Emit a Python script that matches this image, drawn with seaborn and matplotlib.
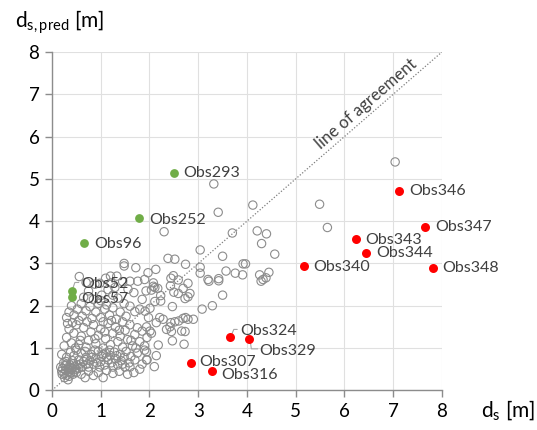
import matplotlib
matplotlib.use("Agg")
import matplotlib.pyplot as plt
import seaborn as sns
import pandas as pd

# ---------------- data ----------------
gray_pts = [
    # dense cluster near origin
    (0.20,0.45),(0.22,0.52),(0.25,0.40),(0.27,0.58),(0.28,0.47),(0.30,0.62),(0.31,0.36),(0.33,0.50),
    (0.34,0.44),(0.36,0.55),(0.37,0.60),(0.38,0.41),(0.40,0.48),(0.41,0.53),(0.43,0.38),(0.44,0.63),
    (0.46,0.45),(0.47,0.57),(0.49,0.50),(0.50,0.42),(0.52,0.60),(0.24,0.65),(0.18,0.55),(0.35,0.33),
    (0.29,0.68),(0.42,0.70),(0.55,0.52),(0.26,0.30),(0.33,0.25),(0.21,0.38),
    # low row
    (0.60,0.38),(0.68,0.30),(0.75,0.45),(0.85,0.35),(0.95,0.42),(1.05,0.30),(1.12,0.47),(1.25,0.40),
    (1.38,0.45),(1.55,0.38),(0.62,0.55),(0.72,0.62),(1.50,0.55),(1.68,0.42),
    # 0.55 - 0.95
    (0.20,0.85),(0.30,0.78),(0.45,0.82),(0.55,0.72),(0.60,0.88),(0.65,0.68),(0.70,0.78),(0.78,0.70),
    (0.80,0.85),(0.85,0.62),(0.90,0.75),(0.95,0.92),(1.00,0.68),(1.02,0.80),(1.08,0.60),(1.10,0.88),
    (1.15,0.72),(1.20,0.82),(1.22,0.65),(1.28,0.90),(1.30,0.75),(1.35,0.60),(1.40,0.85),(1.42,0.70),
    (1.48,0.78),(1.52,0.92),(1.58,0.65),(1.62,0.80),(1.70,0.72),(1.75,0.88),(1.85,0.62),(1.90,0.95),
    (0.50,0.95),(0.38,0.90),(0.88,0.95),(1.18,0.95),(0.75,0.55),(0.98,0.55),(1.60,0.55),(1.80,0.50),
    (1.95,0.72),(0.58,0.62),(0.82,0.78),(1.05,0.85),(1.33,0.82),(0.68,0.92),(0.92,0.65),(1.25,0.55),
    (1.45,0.62),(1.12,0.78),
    # 0.95 - 1.6
    (0.25,1.05),(0.30,1.25),(0.35,1.45),(0.40,1.12),(0.45,1.35),(0.50,1.55),(0.55,1.08),(0.60,1.28),
    (0.65,1.48),(0.70,1.02),(0.75,1.18),(0.80,1.38),(0.85,1.55),(0.90,1.10),(0.95,1.30),(1.00,1.45),
    (1.05,1.00),(1.10,1.22),(1.15,1.58),(1.20,1.08),(1.25,1.35),(1.30,1.50),(1.35,1.15),(1.40,1.28),
    (1.45,1.02),(1.50,1.42),(1.55,1.20),(1.60,1.55),(1.65,1.05),(1.70,1.32),(1.75,1.48),(1.80,1.15),
    (1.85,1.40),(1.90,1.05),(1.95,1.25),(0.42,1.60),(0.72,1.62),(1.22,1.65),(0.58,1.18),(0.88,1.22),
    (1.08,1.38),(1.38,1.42),(1.62,1.18),(0.32,1.58),(1.72,1.00),(0.48,1.00),
    # 1.6 - 2.1
    (0.30,1.72),(0.35,1.85),(0.40,2.00),(0.45,1.78),(0.52,1.92),(0.60,2.05),(0.62,1.75),(0.70,1.88),
    (0.78,1.98),(0.82,1.70),(0.90,1.85),(0.95,2.05),(1.00,1.72),(1.08,1.92),(1.12,2.02),(1.18,1.78),
    (1.25,1.95),(1.32,1.68),(1.40,1.85),(1.48,2.05),(1.52,1.75),(1.60,1.99),(1.70,1.86),(1.80,1.92),
    (1.91,1.87),(1.98,1.72),(0.55,1.65),(1.05,1.62),(1.45,1.62),
    # 2.1 - 3.0 (x < 2)
    (0.56,2.69),(0.65,2.20),(0.75,2.35),(0.85,2.15),(0.88,2.51),(0.98,2.53),(1.02,2.25),(1.10,2.65),
    (1.15,2.38),(1.20,2.70),(1.21,2.54),(1.29,2.43),(1.33,2.70),(1.35,2.18),(1.45,2.57),(1.48,3.00),
    (1.48,2.94),(1.56,2.39),(1.60,2.58),(1.68,2.31),(1.72,2.90),(1.76,2.58),(1.85,2.15),(1.93,2.35),
    (1.97,2.78),(1.00,2.12),(0.70,2.55),(1.25,2.25),(1.90,2.62),
    # x 2 - 3
    (2.04,2.37),(2.08,2.54),(2.08,2.46),(2.13,2.86),(2.11,2.43),(2.17,2.41),(2.23,2.24),(2.30,3.75),
    (2.38,3.12),(2.52,3.10),(2.43,2.47),(2.50,2.32),(2.49,2.71),(2.44,2.65),(2.59,2.61),(2.69,2.41),
    (2.74,2.98),(2.79,2.53),(2.83,2.29),(2.73,2.17),(2.59,2.29),(2.79,2.21),(2.11,2.10),(2.23,2.11),
    (2.47,1.98),(2.01,1.94),(2.21,1.72),(2.28,1.68),(2.44,1.60),(2.14,1.60),(2.60,1.64),(2.74,1.72),
    (2.79,1.68),(2.90,1.68),(1.94,1.50),(2.35,1.44),(2.45,1.39),(2.66,1.40),(2.73,1.39),(2.01,1.40),
    (2.04,1.35),(2.47,1.17),(2.18,1.07),(2.71,1.09),(1.94,0.91),(2.14,0.82),(2.10,0.56),(1.94,0.72),
    (2.42,1.50),(2.52,1.62),(2.69,1.70),
    # x 3 - 4
    (3.04,3.32),(3.50,3.17),(3.04,2.91),(3.92,2.99),(3.57,2.82),(3.04,2.77),(3.76,2.77),(3.91,2.73),
    (3.20,2.62),(3.42,2.64),(3.22,2.58),(3.42,2.59),(3.50,2.25),(3.29,2.00),(3.08,1.92),(3.41,4.21),
    (3.70,3.72),(3.32,4.88),(3.97,2.99),
    # x > 4
    (4.12,4.38),(4.21,3.77),(4.40,3.70),(4.30,3.47),(4.57,3.22),(4.26,2.73),(4.45,2.79),(4.39,2.66),
    (4.33,2.62),(4.29,2.58),(5.49,4.40),(5.65,3.85),(7.04,5.40),
]
gray_x = [p[0] for p in gray_pts]
gray_y = [p[1] for p in gray_pts]

green_names = ["Obs293", "Obs252", "Obs96", "Obs52", "Obs57"]
green_x = [2.50, 1.78, 0.66, 0.42, 0.42]
green_y = [5.14, 4.07, 3.49, 2.35, 2.21]
green_lx = [2.69, 1.99, 0.87, 0.61, 0.61]
green_ly = [5.13, 4.03, 3.46, 2.51, 2.17]

red_names = ["Obs346", "Obs347", "Obs343", "Obs344", "Obs340", "Obs348",
             "Obs324", "Obs329", "Obs307", "Obs316"]
red_x = [7.12, 7.66, 6.23, 6.45, 5.16, 7.82, 3.66, 4.05, 2.86, 3.28]
red_y = [4.71, 3.85, 3.57, 3.25, 2.95, 2.90, 1.26, 1.21, 0.64, 0.46]
red_lx = [7.32, 7.86, 6.43, 6.65, 5.35, 8.01, 3.86, 4.26, 3.02, 3.48]
red_ly = [4.71, 3.85, 3.55, 3.24, 2.92, 2.90, 1.40, 0.93, 0.68, 0.36]

ticks = [0, 1, 2, 3, 4, 5, 6, 7, 8]

# ---------------- style ----------------
sns.set_theme(style="white")
plt.rcParams['font.family'] = ['Lato', 'DejaVu Sans']
plt.rcParams['mathtext.fontset'] = 'custom'
plt.rcParams['mathtext.rm'] = 'Lato'
plt.rcParams['mathtext.it'] = 'Lato:italic'

TXT = '#404040'
AX = '#8c8c8c'

fig = plt.figure(figsize=(5.37, 4.30), dpi=100)
ax = fig.add_axes([0.0968, 0.0923, 0.7262, 0.7868])

df_gray = pd.DataFrame({"x": gray_x, "y": gray_y})
df_green = pd.DataFrame({"x": green_x, "y": green_y})
df_red = pd.DataFrame({"x": red_x, "y": red_y})

# line of agreement
ax.plot([0, 8], [0, 8], linestyle=(0, (1, 1.5)), color='#7f7f7f', lw=0.9, zorder=1)

sns.scatterplot(data=df_gray, x="x", y="y", ax=ax, s=36, marker='o',
                fc='none', ec='#8c8c8c', linewidth=0.8, zorder=2)
sns.scatterplot(data=df_green, x="x", y="y", ax=ax, s=40, color='#70ad47',
                linewidth=0, zorder=3)
sns.scatterplot(data=df_red, x="x", y="y", ax=ax, s=42, color='#ff0000',
                linewidth=0, zorder=3)

for n, lx, ly in zip(green_names, green_lx, green_ly):
    ax.text(lx, ly, n, fontsize=11.5, color=TXT, va='center', ha='left', zorder=4,
            clip_on=False)
for n, lx, ly in zip(red_names, red_lx, red_ly):
    ax.text(lx, ly, n, fontsize=11.5, color=TXT, va='center', ha='left', zorder=4,
            clip_on=False)

# leader lines
lc = '#a6a6a6'
ax.plot([3.69, 3.73, 3.80], [1.33, 1.44, 1.44], color=lc, lw=0.8, zorder=2)
ax.plot([4.07, 4.09, 4.22], [1.14, 0.98, 0.98], color=lc, lw=0.8, zorder=2)
ax.plot([0.43, 0.47, 0.55], [2.42, 2.55, 2.55], color=lc, lw=0.8, zorder=2)

ax.text(6.45, 6.76, "line of agreement", fontsize=12, color=TXT, rotation=45,
        rotation_mode='anchor', transform_rotates_text=True, ha='center', va='center')

ax.set_xlim(0, 8)
ax.set_ylim(0, 8)
ax.set_xticks(ticks)
ax.set_yticks(ticks)
ax.set_xticklabels([str(t) for t in ticks], fontsize=13.5, color='black')
ax.set_yticklabels([str(t) for t in ticks], fontsize=13.5, color='black')
ax.set_xlabel("")
ax.set_ylabel("")
ax.grid(True, color='#e0e0e0', lw=0.8)
ax.set_axisbelow(True)
for s in ['top', 'right']:
    ax.spines[s].set_visible(False)
for s in ['left', 'bottom']:
    ax.spines[s].set_color(AX)
    ax.spines[s].set_linewidth(1.0)
ax.tick_params(axis='both', which='major', direction='out', length=5, width=1.0,
               color=AX, pad=4, bottom=True, left=True)

fig.text(0.028, 0.935, r"d$_{\mathrm{s,pred}}$ [m]", fontsize=15, color='black',
         ha='left', va='baseline')
fig.text(0.895, 0.030, r"d$_{\mathrm{s}}$ [m]", fontsize=15, color='black',
         ha='left', va='baseline')

fig.savefig("out.png", dpi=100)
